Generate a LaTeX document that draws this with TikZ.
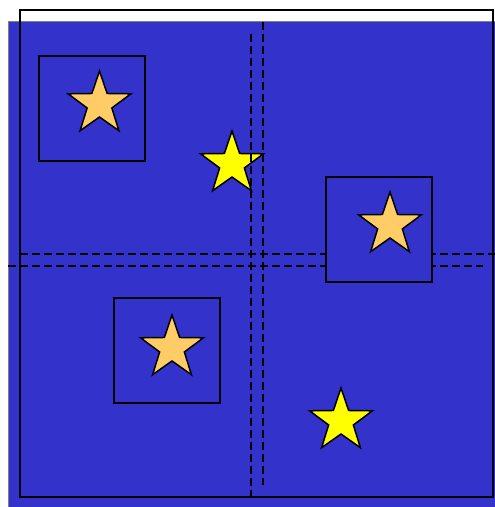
\documentclass[tikz,border=0pt]{standalone}
\definecolor{bg}{RGB}{51,51,204}
\definecolor{ostar}{RGB}{255,204,102}
\definecolor{ystar}{RGB}{255,255,0}
\tikzset{
  x=1pt,y=1pt,
  frame/.style={draw=black,line width=1.6pt},
  box/.style={draw=black,fill=bg,line width=1.8pt},
  dline/.style={draw=black,line width=1.4pt,dash pattern=on 8pt off 4pt},
  starshape/.pic={
    \path[pic actions,line width=1.5pt,line join=miter]
      (90:33) -- (126:13) -- (162:33) -- (198:13) -- (234:33) -- (270:13)
      -- (306:33) -- (342:13) -- (18:33) -- (54:13) -- cycle;
  }
}
\begin{document}
\begin{tikzpicture}
\clip (0,0) rectangle (495,507);
\fill[white] (0,0) rectangle (495,507);
% blue field
\filldraw[fill=bg,draw=gray,line width=1pt] (8,-5) rectangle (505,485);
% outline frame
\draw[frame] (20,10) rectangle (493,497);
% loose stars
\pic[fill=ystar,draw=black] (y1) at (232,343) {starshape};
\pic[fill=ystar,draw=black] (y2) at (341,86) {starshape};
% dashed guides
\draw[dline] (251,473) -- (251,10);
\draw[dline] (263,485) -- (263,22);
\draw[dline] (20,253) -- (495,253);
\draw[dline] (8,241) -- (483,241);
% boxed stars
\draw[box] (39,346) rectangle (145,451);
\draw[box] (326,225) rectangle (432,330);
\draw[box] (114,104) rectangle (220,209);
\pic[fill=ostar,draw=black] (s1) at (99.5,403) {starshape};
\pic[fill=ostar,draw=black] (s2) at (390,282) {starshape};
\pic[fill=ostar,draw=black] (s3) at (172,159) {starshape};
\end{tikzpicture}
\end{document}
